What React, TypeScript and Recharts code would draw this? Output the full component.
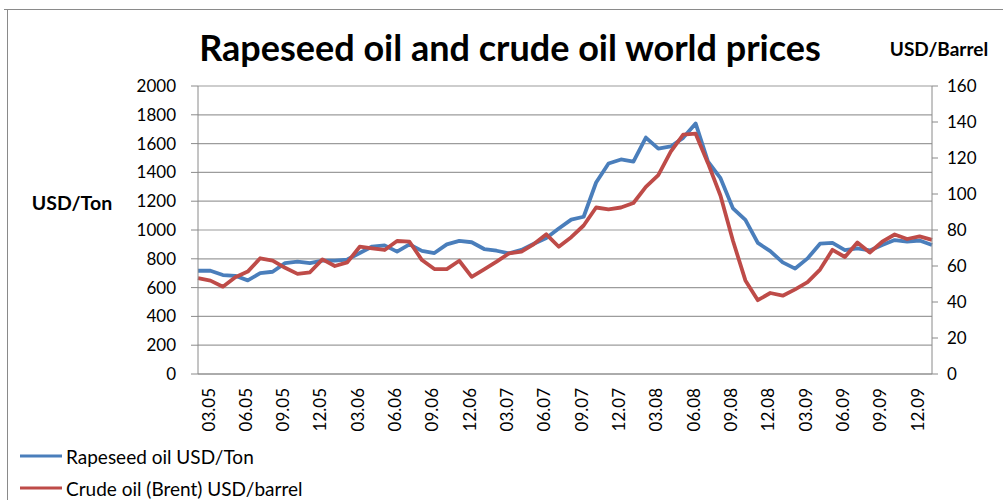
import {
  LineChart,
  Line,
  XAxis,
  YAxis,
  CartesianGrid,
  Legend,
} from "recharts";

// monthly, 03.05 .. 02.10
const months = [
  "03.05", "04.05", "05.05", "06.05", "07.05", "08.05", "09.05", "10.05", "11.05", "12.05",
  "01.06", "02.06", "03.06", "04.06", "05.06", "06.06", "07.06", "08.06", "09.06", "10.06",
  "11.06", "12.06", "01.07", "02.07", "03.07", "04.07", "05.07", "06.07", "07.07", "08.07",
  "09.07", "10.07", "11.07", "12.07", "01.08", "02.08", "03.08", "04.08", "05.08", "06.08",
  "07.08", "08.08", "09.08", "10.08", "11.08", "12.08", "01.09", "02.09", "03.09", "04.09",
  "05.09", "06.09", "07.09", "08.09", "09.09", "10.09", "11.09", "12.09", "01.10", "02.10",
];

const tickLabels = [
  "03.05", "06.05", "09.05", "12.05", "03.06", "06.06", "09.06", "12.06", "03.07", "06.07",
  "09.07", "12.07", "03.08", "06.08", "09.08", "12.08", "03.09", "06.09", "09.09", "12.09",
];

// USD/Ton
const rapeseed = [
  717, 717, 687, 682, 650, 700, 710, 770, 780, 770,
  787, 787, 795, 840, 885, 893, 850, 900, 855, 840,
  900, 925, 915, 868, 856, 838, 862, 905, 945, 1010,
  1072, 1092, 1330, 1462, 1490, 1475, 1642, 1565, 1580, 1640,
  1740, 1474, 1360, 1150, 1070, 910, 853, 775, 732, 803,
  905, 910, 860, 873, 858, 896, 930, 920, 927, 896,
];

// USD/barrel
const brent = [
  53.2, 51.9, 48.5, 53.7, 56.9, 64.3, 63, 59, 55.6, 56.5,
  63.7, 60, 62, 70.7, 69.8, 68.9, 73.9, 73.5, 63.3, 58.3,
  58.3, 62.9, 54, 58.1, 62.4, 67, 68, 72.2, 77.6, 70.7,
  76, 82.5, 92.5, 91.5, 92.5, 95, 104, 110.5, 123.5, 133,
  133.5, 117, 99, 74, 52, 41, 45, 43.5, 47, 51,
  58, 69, 65, 73, 67.5, 73.5, 77.5, 75, 76.5, 74.5,
];

const leftTicks = [0, 200, 400, 600, 800, 1000, 1200, 1400, 1600, 1800, 2000];
const rightTicks = [0, 20, 40, 60, 80, 100, 120, 140, 160];

const data = months.map((month, i) => ({
  month,
  rapeseed: rapeseed[i],
  brent: brent[i],
}));

const FONT = "Lato";
const BLUE = "#4A7EBB";
const RED = "#BE4B48";
const GRID = "#9c9c9c";

const MonthTick = ({ x, y, payload }: any) => {
  const tx = x + 10;
  return (
    <text
      x={tx}
      y={y}
      transform={`rotate(-90 ${tx} ${y})`}
      textAnchor="end"
      dominantBaseline="central"
      fontSize={17}
      fontFamily={FONT}
      fill="#000"
    >
      {payload.value}
    </text>
  );
};

const renderLegend = () => {
  const items = [
    { label: "Rapeseed oil USD/Ton", color: BLUE },
    { label: "Crude oil (Brent) USD/barrel", color: RED },
  ];
  return (
    <div style={{ fontFamily: FONT, fontSize: 19, color: "#000" }}>
      {items.map((it) => (
        <div
          key={it.label}
          style={{ display: "flex", alignItems: "center", height: 32 }}
        >
          <svg width={46} height={6} style={{ marginLeft: 2 }}>
            <line x1={0} y1={3} x2={42} y2={3} stroke={it.color} strokeWidth={3} />
          </svg>
          <span>{it.label}</span>
        </div>
      ))}
    </div>
  );
};

export default function App() {
  return (
    <div
      style={{
        position: "absolute",
        left: 0,
        top: 0,
        width: 1003,
        height: 500,
        background: "#fff",
      }}
    >
      <LineChart
        width={1003}
        height={500}
        data={data}
        margin={{ top: 86, right: 0, bottom: 0, left: 0 }}
      >
        <CartesianGrid
          yAxisId="left"
          vertical={false}
          stroke={GRID}
          strokeWidth={1.2}
        />
        <XAxis
          dataKey="month"
          ticks={tickLabels}
          interval={0}
          height={126}
          tickLine={false}
          tickSize={0}
          tickMargin={14}
          axisLine={{ stroke: "#8a8a8a" }}
          tick={<MonthTick />}
        />
        <YAxis
          yAxisId="left"
          width={198}
          domain={[0, 2000]}
          ticks={leftTicks}
          tickSize={7}
          tickMargin={15}
          axisLine={{ stroke: "#8a8a8a" }}
          tickLine={{ stroke: "#8a8a8a" }}
          tick={{ fontSize: 17, fill: "#000", fontFamily: FONT }}
        />
        <YAxis
          yAxisId="right"
          orientation="right"
          width={71}
          domain={[0, 160]}
          ticks={rightTicks}
          tickSize={6}
          tickMargin={9}
          axisLine={{ stroke: "#8a8a8a" }}
          tickLine={{ stroke: "#8a8a8a" }}
          tick={{ fontSize: 17, fill: "#000", fontFamily: FONT }}
        />
        <Legend
          layout="vertical"
          align="center"
          verticalAlign="middle"
          wrapperStyle={{ left: 18, top: 440, width: 340 }}
          content={renderLegend}
        />
        <Line
          yAxisId="left"
          type="linear"
          dataKey="rapeseed"
          name="Rapeseed oil USD/Ton"
          stroke={BLUE}
          strokeWidth={3.8}
          strokeLinejoin="round"
          dot={false}
          isAnimationActive={false}
        />
        <Line
          yAxisId="right"
          type="linear"
          dataKey="brent"
          name="Crude oil (Brent) USD/barrel"
          stroke={RED}
          strokeWidth={3.8}
          strokeLinejoin="round"
          dot={false}
          isAnimationActive={false}
        />
      </LineChart>
      <svg
        width={1003}
        height={500}
        style={{ position: "absolute", left: 0, top: 0, pointerEvents: "none" }}
      >
        <line x1={4} y1={9.5} x2={1003} y2={9.5} stroke="#8a8a8a" />
        <line x1={7.5} y1={9} x2={7.5} y2={500} stroke="#8a8a8a" />
        <text
          x={510}
          y={61}
          textAnchor="middle"
          fontSize={36}
          fontWeight="bold"
          fontFamily={FONT}
          fill="#000"
        >
          Rapeseed oil and crude oil world prices
        </text>
        <text
          x={939}
          y={56}
          textAnchor="middle"
          fontSize={19}
          fontWeight="bold"
          fontFamily={FONT}
          fill="#000"
        >
          USD/Barrel
        </text>
        <text
          x={72}
          y={210}
          textAnchor="middle"
          fontSize={19.5}
          fontWeight="bold"
          fontFamily={FONT}
          fill="#000"
        >
          USD/Ton
        </text>
      </svg>
    </div>
  );
}
